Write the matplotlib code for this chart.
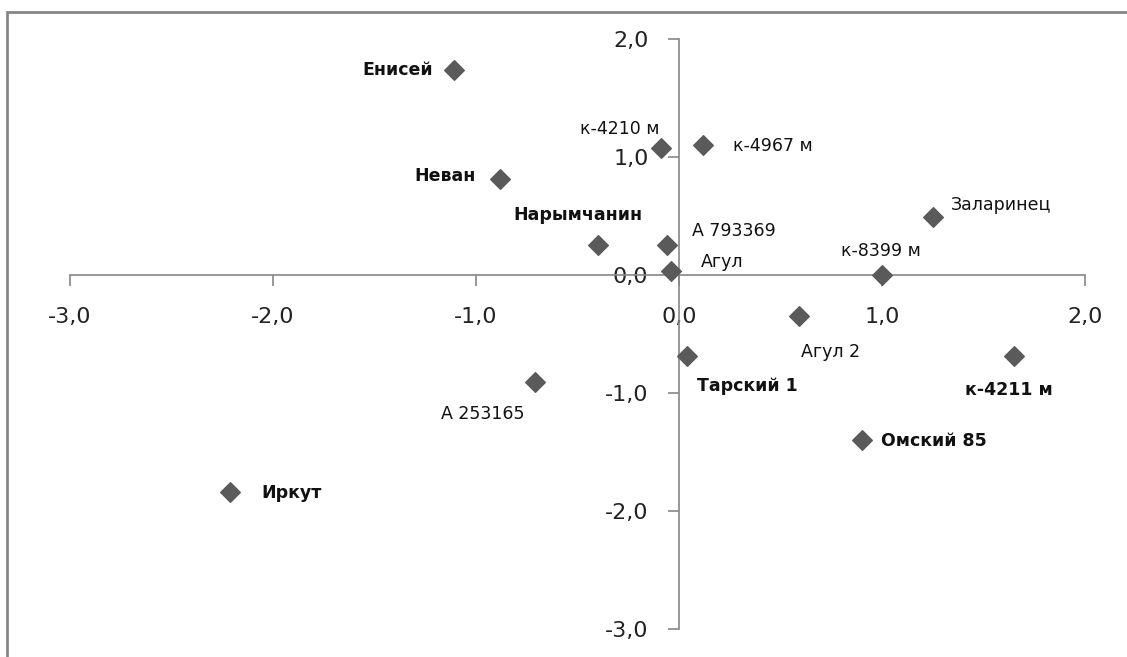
import matplotlib.pyplot as plt
from matplotlib.patches import Rectangle

# varieties and their coordinates
names = ['Енисей', 'к-4210 м', 'к-4967 м', 'Неван', 'Нарымчанин', 'А 793369',
         'Агул', 'Заларинец', 'к-8399 м', 'Агул 2', 'к-4211 м', 'Омский 85',
         'Тарский 1', 'А 253165', 'Иркут']
x_vals = [-1.11, -0.09, 0.12, -0.88, -0.40, -0.06,
          -0.04, 1.25, 1.00, 0.59, 1.65, 0.90,
          0.04, -0.71, -2.21]
y_vals = [1.74, 1.08, 1.10, 0.81, 0.25, 0.25,
          0.03, 0.49, 0.00, -0.35, -0.69, -1.40,
          -0.69, -0.91, -1.84]

ticks = [-3, -2, -1, 0, 1, 2]
tick_labels = ['-3,0', '-2,0', '-1,0', '0,0', '1,0', '2,0']

# label placement: (dx px, dy px, ha, bold)
label_style = {
    'Енисей': (-21, 0, 'right', True),
    'к-4210 м': (-41, 19, 'center', False),
    'к-4967 м': (30, -1, 'left', False),
    'Неван': (-25, 3, 'right', True),
    'Нарымчанин': (-20, 30, 'center', True),
    'А 793369': (25, 14, 'left', False),
    'Агул': (30, 9, 'left', False),
    'Заларинец': (18, 12, 'left', False),
    'к-8399 м': (-1, 24, 'center', False),
    'Агул 2': (32, -36, 'center', False),
    'к-4211 м': (-5, -34, 'center', True),
    'Омский 85': (19, -1, 'left', True),
    'Тарский 1': (10, -30, 'left', True),
    'А 253165': (-52, -32, 'center', False),
    'Иркут': (31, -1, 'left', True),
}

axis_col = '#868686'
marker_col = '#5a5a5a'

fig = plt.figure(figsize=(11.27, 6.57), dpi=100)
fig.patches.append(Rectangle((7 / 1127, -0.1), 1.2, 1.1 - 12 / 657 + 0.0,
                             transform=fig.transFigure, fill=False,
                             edgecolor=axis_col, linewidth=2))
ax = fig.add_axes([70 / 1127, 28 / 657, 1015 / 1127, 590 / 657])

ax.scatter(x_vals, y_vals, marker='D', s=100, color=marker_col, zorder=3,
           clip_on=False)

for name, xv, yv in zip(names, x_vals, y_vals):
    dx, dy, ha, bold = label_style[name]
    ax.annotate(name, (xv, yv), xytext=(dx, dy), textcoords='offset pixels',
                ha=ha, va='center', fontsize=12.5,
                fontweight='bold' if bold else 'normal', color='#111111')

ax.set_xlim(-3, 2)
ax.set_ylim(-3, 2)
for side in ['top', 'right']:
    ax.spines[side].set_visible(False)
ax.spines['left'].set_position(('data', 0))
ax.spines['bottom'].set_position(('data', 0))
for side in ['left', 'bottom']:
    ax.spines[side].set_color(axis_col)
    ax.spines[side].set_linewidth(1.2)

ax.set_xticks(ticks)
ax.set_xticklabels(tick_labels)
ax.set_yticks(ticks)
ax.set_yticklabels(tick_labels)
ax.tick_params(axis='both', direction='out', length=8, width=1.2,
               color=axis_col, labelsize=16, labelcolor='#222222')
ax.tick_params(axis='x', pad=15)
ax.tick_params(axis='y', pad=14)
ax.patch.set_visible(False)

fig.savefig('out.png', dpi=100)
